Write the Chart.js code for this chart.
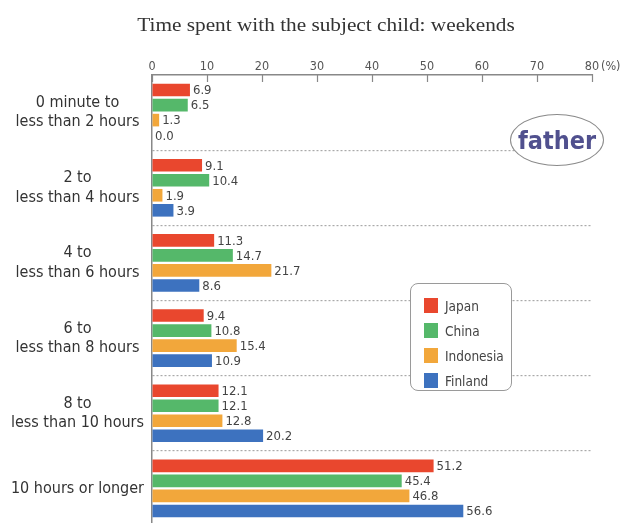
<!DOCTYPE html>
<html>
<head>
<meta charset="utf-8">
<script src="https://cdn.jsdelivr.net/npm/chart.js@4/dist/chart.umd.min.js"></script>
<style>
  html, body { margin: 0; padding: 0; background: #fff; overflow: hidden; }
  #wrap { position: relative; width: 627px; height: 526px; }
  #title {
    position: absolute; left: 0; top: 14px; width: 652px; text-align: center;
    font-family: "Liberation Serif", "Times New Roman", serif; font-size: 19px; color: #333;
    transform: scaleX(1.12); transform-origin: 326px 0;
  }
  #legend {
    position: absolute; left: 410px; top: 283px; width: 102px; height: 108px;
    border: 1.5px solid #9a9a9a; border-radius: 8px; background: #fff;
    box-sizing: border-box; padding: 9px 0 0 13px;
  }
  #legend div { height: 25px; display: flex; align-items: center;
    font-family: "Liberation Sans Narrow", "DejaVu Sans Condensed", "Liberation Sans", sans-serif;
    font-size: 13.5px; color: #444; }
  #legend span { display: inline-block; width: 14px; height: 15px; margin-right: 7px; }
  #father {
    position: absolute; left: 510px; top: 114px; width: 94px; height: 52px;
    border: 1.5px solid #8a8a8a; border-radius: 50%; background: #fff; box-sizing: border-box;
    display: flex; align-items: center; justify-content: center;
    font-family: "Liberation Sans Narrow", "DejaVu Sans Condensed", "Liberation Sans", sans-serif;
    font-weight: bold; font-size: 25px; color: #50508e;
  }
</style>
</head>
<body>
<div id="wrap">
  <canvas id="chart"></canvas>
  <div id="title">Time spent with the subject child: weekends</div>
  <div id="father">father</div>
  <div id="legend"></div>
</div>
<script>
const NARROW = '"Liberation Sans Narrow", "DejaVu Sans Condensed", "Liberation Sans", sans-serif';

const categories = [
  ["0 minute to", "less than 2 hours"],
  ["2 to", "less than 4 hours"],
  ["4 to", "less than 6 hours"],
  ["6 to", "less than 8 hours"],
  ["8 to", "less than 10 hours"],
  "10 hours or longer"
];
const countries = ["Japan", "China", "Indonesia", "Finland"];
const colors = ["#e9472e", "#55b86a", "#f2a73b", "#3d72bf"];

const japan = [6.9, 9.1, 11.3, 9.4, 12.1, 51.2];
const china = [6.5, 10.4, 14.7, 10.8, 12.1, 45.4];
const indonesia = [1.3, 1.9, 21.7, 15.4, 12.8, 46.8];
const finland = [0.0, 3.9, 8.6, 10.9, 20.2, 56.6];

const xTicks = [0, 10, 20, 30, 40, 50, 60, 70, 80];

// numbers to the right of each bar
const valueLabels = {
  id: "valueLabels",
  afterDatasetsDraw(chart) {
    const ctx = chart.ctx;
    ctx.save();
    ctx.font = "13px " + NARROW;
    ctx.fillStyle = "#444";
    ctx.textAlign = "left";
    ctx.textBaseline = "middle";
    chart.data.datasets.forEach((ds, i) => {
      chart.getDatasetMeta(i).data.forEach((bar, j) => {
        ctx.fillText(ds.data[j].toFixed(1), bar.x + 3, bar.y + 1);
      });
    });
    ctx.restore();
  }
};

// "(%)" after the last tick label
const unitLabel = {
  id: "unitLabel",
  afterDraw(chart) {
    const sx = chart.scales.x;
    const ctx = chart.ctx;
    ctx.save();
    ctx.font = "12.5px " + NARROW;
    ctx.fillStyle = "#555";
    ctx.textBaseline = "middle";
    ctx.fillText("(%)", sx.getPixelForValue(80) + 9, sx.bottom - 8);
    ctx.restore();
  }
};

const datasets = [japan, china, indonesia, finland].map((d, i) => ({
  label: countries[i],
  data: d,
  backgroundColor: colors[i],
  categoryPercentage: 0.8,
  barPercentage: 0.84
}));

new Chart(document.getElementById("chart"), {
  type: "bar",
  data: { labels: categories, datasets },
  options: {
    indexAxis: "y",
    responsive: true,
    maintainAspectRatio: false,
    animation: false,
    layout: { padding: { top: 0, right: 35, bottom: 0, left: 0 } },
    plugins: { legend: { display: false }, tooltip: { enabled: false } },
    scales: {
      x: {
        position: "top",
        min: 0,
        max: 80,
        afterBuildTicks: s => { s.ticks = xTicks.map(v => ({ value: v })); },
        afterFit: s => { s.height = 75; },
        grid: { drawOnChartArea: false, tickLength: -7, tickColor: "#888", tickWidth: 1.2 },
        border: { color: "#888", width: 1.5 },
        ticks: { padding: 8, color: "#555", font: { family: NARROW, size: 12.5 } }
      },
      y: {
        afterFit: s => { s.width = 152; s.paddingTop = 0; s.paddingBottom = 0; },
        grid: {
          drawTicks: false,
          color: c => (c.index === undefined || c.index === 0) ? "rgba(0,0,0,0)" : "#aaa",
          lineWidth: 1.2
        },
        border: { color: "#888", width: 1.5, dash: [2, 2] },
        ticks: {
          padding: 8,
          crossAlign: "center",
          color: "#333",
          font: { family: NARROW, size: 16, lineHeight: 1.2 }
        }
      }
    }
  },
  plugins: [valueLabels, unitLabel]
});

// legend box built from the same series names and colours
const legend = document.getElementById("legend");
countries.forEach((name, i) => {
  const row = document.createElement("div");
  const sw = document.createElement("span");
  sw.style.background = colors[i];
  row.appendChild(sw);
  row.appendChild(document.createTextNode(name));
  legend.appendChild(row);
});
</script>
</body>
</html>
